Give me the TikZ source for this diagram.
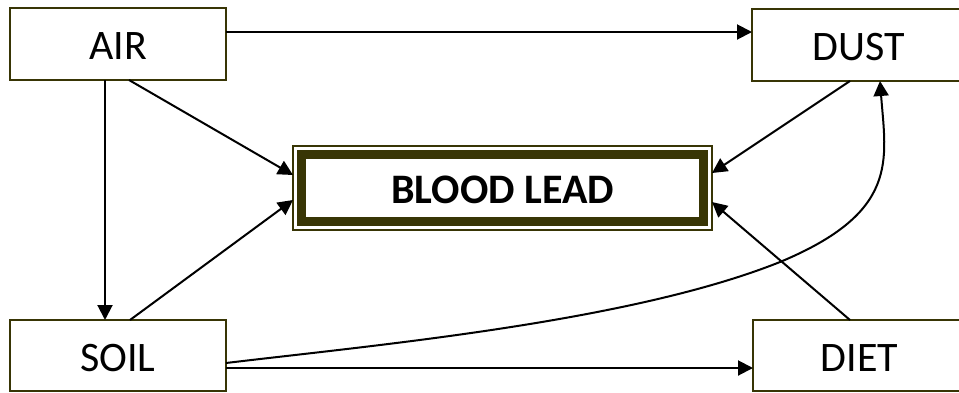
\documentclass[tikz,border=0pt]{standalone}
\usepackage{fontspec}
\setmainfont{Carlito}
\usetikzlibrary{arrows.meta}
\definecolor{olive}{RGB}{56,53,5}
\begin{document}
\begin{tikzpicture}[x=1pt,y=-1pt,
  box/.style={draw=olive,line width=1.6pt,fill=white,rectangle,inner sep=0pt,outer sep=0pt,
              text height=31pt,text depth=0pt,font=\fontsize{42}{44}\selectfont},
  arr/.style={line width=2pt,-{Triangle[length=15pt,width=15pt]}}]
\useasboundingbox[fill=white] (0,0) rectangle (959,392);

% source boxes
\node[box,minimum width=216pt,minimum height=72pt] (air)  at (118,44)    {AIR};
\node[box,minimum width=214pt,minimum height=72pt] (dust) at (859,45)    {DUST};
\node[box,minimum width=216pt,minimum height=71pt] (soil) at (118,355.5) {SOIL};
\node[box,minimum width=213pt,minimum height=71pt] (diet) at (859.5,355.5) {DIET};

% central box with double frame
\node[draw=olive,line width=1.3pt,rectangle,inner sep=0pt,outer sep=0pt,
      minimum width=419pt,minimum height=84pt,text height=30pt,text depth=0pt,
      font=\bfseries\fontsize{42}{44}\selectfont] (blood) at (502.5,188) {BLOOD LEAD};
\draw[olive,line width=8.5pt]
  ([xshift=8.5pt,yshift=-8.5pt]blood.north west) rectangle ([xshift=-8.5pt,yshift=8.5pt]blood.south east);

% connectors
\draw[arr] ([yshift=12pt]air.east) -- ([yshift=12pt]air.east -| dust.west);
\draw[arr] ([xshift=-13pt]air.south) -- ([xshift=-13pt]air.south |- soil.north);
\draw[arr] ([xshift=11pt]air.south) -- ([yshift=13pt]blood.west);
\draw[arr] ([xshift=12pt]soil.north) -- ([yshift=-12pt]blood.west);
\draw[arr] ([xshift=-9pt]dust.south) -- ([yshift=15pt]blood.east);
\draw[arr] ([xshift=-9.5pt]diet.north) -- ([yshift=-14pt]blood.east);
\draw[arr] ([yshift=-12.5pt]soil.east) -- ([yshift=-12.5pt]soil.east -| diet.west);

\coordinate (bend) at (780,262);
\draw[arr] ([yshift=-7.5pt]soil.east) .. controls (376,345) and (630,322) .. (bend)
  .. controls (900,212) and (886,160) .. ([xshift=21pt]dust.south);
\end{tikzpicture}
\end{document}
